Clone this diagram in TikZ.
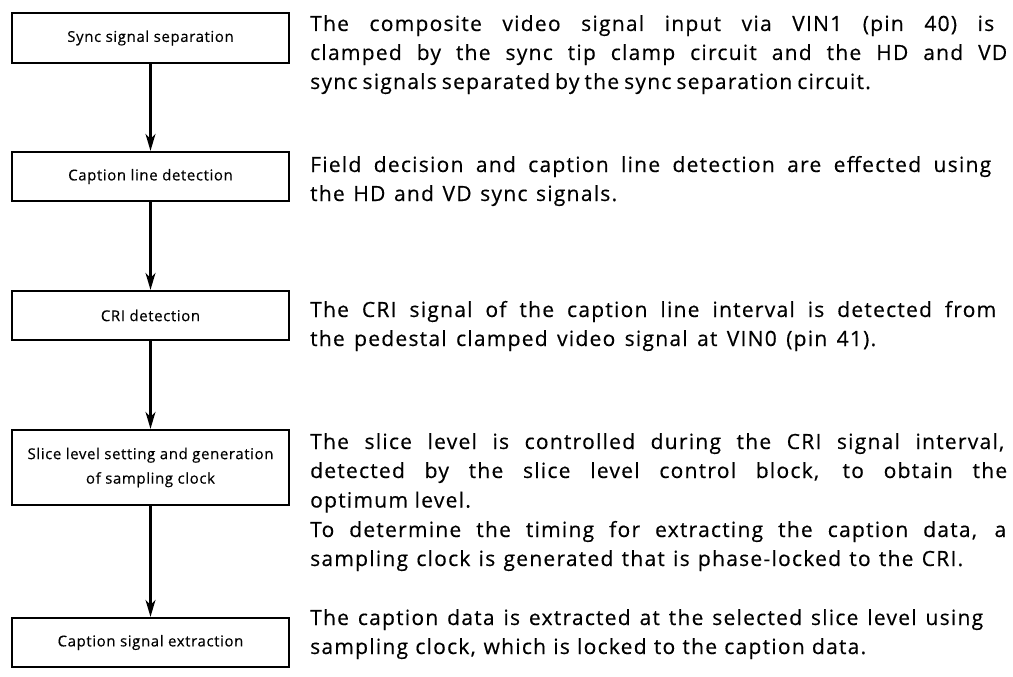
\documentclass[tikz,border=0pt]{standalone}
\usepackage{fontspec}
\setmainfont{Open Sans}
\newfontfamily\descfont{Open Sans}[LetterSpace=6,FakeBold=0.4]
\newfontfamily\boxfont{Open Sans}[LetterSpace=4,FakeBold=0.3]
\usetikzlibrary{arrows.meta}
\tikzset{
  stepbox/.style={draw, line width=2.3pt, minimum width=277pt, inner sep=0pt, align=center,
    font=\boxfont\fontsize{15}{24.5}\selectfont},
  flow/.style={-{Stealth[length=17pt,width=10pt,inset=5pt]}, line width=2.1pt},
  dtext/.style={anchor=base west, inner sep=0pt, font=\descfont\fontsize{21}{29}\selectfont}
}
\newcommand{\dline}[2]{\hbox to #1pt{\spaceskip=0.24em plus 1fil minus 0.1em\xspaceskip=\spaceskip #2\hskip 0pt minus 1fil}}
\begin{document}
\begin{tikzpicture}[x=1pt,y=-1pt]
\useasboundingbox (0,0) rectangle (1013,677);
\node[stepbox, minimum height=50pt] (b1) at (150.5,38) {Sync signal separation};
\node[stepbox, minimum height=49pt] (b2) at (150.5,176.5) {Caption line detection};
\node[stepbox, minimum height=49pt] (b3) at (150.5,315.5) {CRI detection};
\node[stepbox, minimum height=75pt] (b4) at (150.5,467.5) {Slice level setting and generation\\of sampling clock};
\node[stepbox, minimum height=49pt] (b5) at (150.5,642.5) {Caption signal extraction};
\draw[flow] (b1.south) -- (b2.north);
\draw[flow] (b2.south) -- (b3.north);
\draw[flow] (b3.south) -- (b4.north);
\draw[flow] (b4.south) -- (b5.north);
% paragraph 1
\node[dtext] (p1a) at (310,31) {\dline{684}{The composite video signal input via VIN1 (pin 40) is}};
\node[dtext] (p1b) at (310,60) {\dline{697}{clamped by the sync tip clamp circuit and the HD and VD}};
\node[dtext] (p1c) at (310,89) {\dline{556}{sync signals separated by the sync separation circuit.}};
% paragraph 2
\node[dtext] (p2a) at (310,172) {\dline{681}{Field decision and caption line detection are effected using}};
\node[dtext] (p2b) at (310,201) {\dline{307}{the HD and VD sync signals.}};
% paragraph 3
\node[dtext] (p3a) at (310,317) {\dline{686}{The CRI signal of the caption line interval is detected from}};
\node[dtext] (p3b) at (310,346) {\dline{566}{the pedestal clamped video signal at VIN0 (pin 41).}};
% paragraph 4
\node[dtext] (p4a) at (310,449) {\dline{694}{The slice level is controlled during the CRI signal interval,}};
\node[dtext] (p4b) at (310,478) {\dline{697}{detected by the slice level control block, to obtain the}};
\node[dtext] (p4c) at (310,507.5) {optimum level.};
\node[dtext] (p4d) at (310,537) {\dline{696}{To determine the timing for extracting the caption data, a}};
\node[dtext] (p4e) at (310,566) {\dline{653}{sampling clock is generated that is phase-locked to the CRI.}};
% paragraph 5
\node[dtext] (p5a) at (310,625) {\dline{673}{The caption data is extracted at the selected slice level using}};
\node[dtext] (p5b) at (310,654) {\dline{556}{sampling clock, which is locked to the caption data.}};
\end{tikzpicture}
\end{document}
